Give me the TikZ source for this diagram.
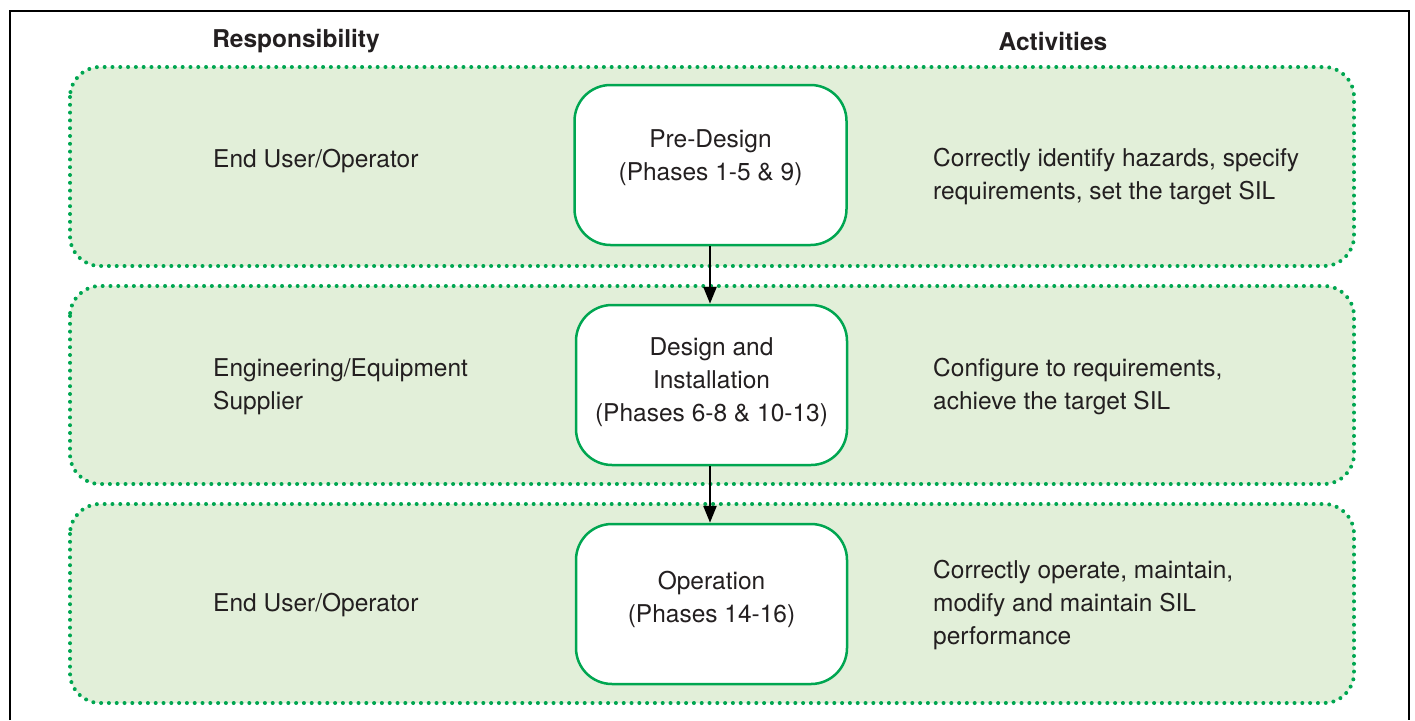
\documentclass[tikz,border=0pt]{standalone}
\usepackage{fontspec}
\setmainfont{TeX Gyre Heros}
\usetikzlibrary{arrows.meta}
\definecolor{sisgreen}{RGB}{0,166,81}
\definecolor{bandfill}{RGB}{226,239,217}
\definecolor{ink}{RGB}{35,31,32}
\newcommand{\bodysize}{\fontsize{24.5}{33}\selectfont}
\tikzset{
  band/.style={fill=bandfill, draw=sisgreen, line width=4pt, line cap=round,
    dash pattern=on 0pt off 7.8pt, rounded corners=30pt},
  phasebox/.style={draw=sisgreen, fill=white, line width=2.5pt, rounded corners=36pt,
    minimum width=272pt, minimum height=160pt, inner sep=0pt},
  boxtext/.style={align=center, text=ink, inner sep=0pt, font=\bodysize},
  lbl/.style={align=left, anchor=west, text=ink, inner sep=0pt, font=\bodysize},
  head/.style={font=\bodysize\bfseries, text=ink, inner sep=0pt},
  flow/.style={line width=2.6pt, -{Triangle[length=17pt,width=13pt]}}
}
\begin{document}
\begin{tikzpicture}[x=1pt,y=-1pt]
\useasboundingbox (0,0) rectangle (1415,720);
% outer frame, open at the bottom
\draw[line width=1.8pt] (10,720) -- (10,11) -- (1409,11) -- (1409,720);

% column headings
\node[head] (hresp) at (296,41) {Responsibility};
\node[head] (hact) at (1053,41) {Activities};

% responsibility bands
\path[band] (70,67) rectangle (1354,266);
\path[band] (70,286) rectangle (1354,484);
\path[band] (70,504) rectangle (1354,703);

% lifecycle stages
\node[phasebox] (pre) at (710.5,165) {};
\node[phasebox, minimum width=271pt] (des) at (711.5,385) {};
\node[phasebox, minimum width=271pt] (ope) at (711.5,604) {};
\node[boxtext] (pret) at (710.5,158) {Pre-Design\\(Phases 1-5 \& 9)};
\node[boxtext] (dest) at (711.5,382) {Design and\\Installation\\(Phases 6-8 \& 10-13)};
\node[boxtext] (opet) at (711.5,599) {Operation\\(Phases 14-16)};

\draw[flow] (pre.south -| 710,0) -- (des.north -| 710,0);
\draw[flow] (des.south -| 710,0) -- (ope.north -| 710,0);

% responsibility labels
\node[lbl] (r1) at (213,161) {End User/Operator};
\node[lbl] (r2) at (213,387) {Engineering/Equipment\\Supplier};
\node[lbl] (r3) at (213,605) {End User/Operator};

% activity labels
\node[lbl] (a1) at (933,177) {Correctly identify hazards, specify\\requirements, set the target SIL};
\node[lbl] (a2) at (933,387) {Configure to requirements,\\achieve the target SIL};
\node[lbl] (a3) at (933,605) {Correctly operate, maintain,\\modify and maintain SIL\\performance};
\end{tikzpicture}
\end{document}
